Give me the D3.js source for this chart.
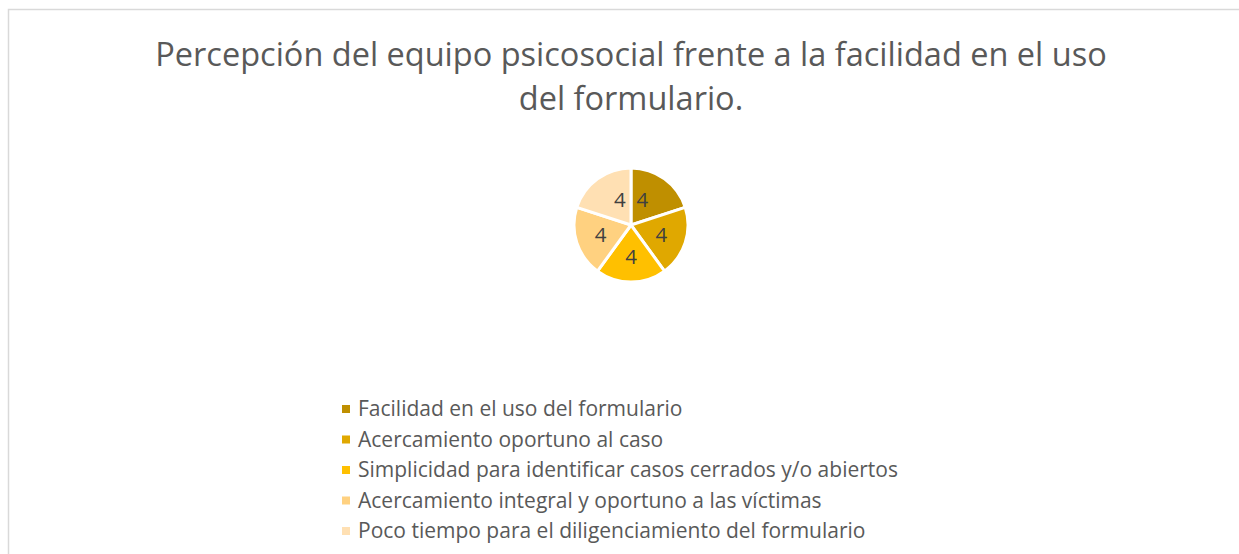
<!DOCTYPE html>
<html>
<head>
<meta charset="utf-8">
<script src="https://cdn.jsdelivr.net/npm/d3@7"></script>
<style>
  body { margin: 0; background: #fff; }
  svg { display: block; }
</style>
</head>
<body>
<script>
var titleLines = ["Percepción del equipo psicosocial frente a la facilidad en el uso", "del formulario."];
var categories = [
    "Facilidad en el uso del formulario",
    "Acercamiento oportuno al caso",
    "Simplicidad para identificar casos cerrados y/o abiertos",
    "Acercamiento integral y oportuno a las víctimas",
    "Poco tiempo para el diligenciamiento del formulario"
];
var values = [4, 4, 4, 4, 4];
var colors = ["#bf8f00", "#e0a800", "#ffc000", "#ffd180", "#ffe0b3"];

const w = 1239;
const h = 554;
const font = "'Open Sans', 'Noto Sans', sans-serif";

const svg = d3.select("body")
    .append("svg")
    .attr("width", w)
    .attr("height", h);

// chart area border (runs off the right and bottom)
svg.append("rect")
    .attr("x", 8.5)
    .attr("y", 9.5)
    .attr("width", w + 20)
    .attr("height", h + 20)
    .attr("fill", "#fff")
    .attr("stroke", "#d9d9d9")
    .attr("stroke-width", 1.5);

// title
svg.append("g")
    .selectAll("text")
    .data(titleLines)
    .enter()
    .append("text")
    .attr("x", 631)
    .attr("y", (d, i) => 66 + i * 44)
    .attr("text-anchor", "middle")
    .style("font-family", font)
    .style("font-size", "32.5px")
    .style("fill", "#595959")
    .text(d => d);

// pie
const cx = 631, cy = 225, r = 57;
const pie = d3.pie().sort(null).value(d => d);
const arc = d3.arc().innerRadius(0).outerRadius(r);
const labelArc = d3.arc().innerRadius(r * 0.56).outerRadius(r * 0.56);

const g = svg.append("g").attr("transform", "translate(" + cx + "," + cy + ")");
const slices = g.selectAll("g.slice")
    .data(pie(values))
    .enter()
    .append("g")
    .attr("class", "slice");

slices.append("path")
    .attr("d", arc)
    .attr("fill", (d, i) => colors[i])
    .attr("stroke", "#fff")
    .attr("stroke-width", 3);

slices.append("text")
    .attr("transform", d => {
        var c = labelArc.centroid(d);
        // pull the top labels in toward the vertical, like the original
        return "translate(" + (c[0] * (c[1] < 0 ? 0.6 : 1)) + "," + c[1] + ")";
    })
    .attr("text-anchor", "middle")
    .attr("dy", "0.36em")
    .style("font-family", font)
    .style("font-size", "20.5px")
    .style("fill", "#404040")
    .text(d => d.data);

// legend
const legend = svg.append("g")
    .selectAll("g")
    .data(categories)
    .enter()
    .append("g")
    .attr("transform", (d, i) => "translate(342," + (409 + i * 30.5) + ")");

legend.append("rect")
    .attr("x", 0)
    .attr("y", -4)
    .attr("width", 8)
    .attr("height", 8)
    .attr("fill", (d, i) => colors[i]);

legend.append("text")
    .attr("x", 16)
    .attr("dy", "0.35em")
    .style("font-family", font)
    .style("font-size", "21px")
    .style("fill", "#595959")
    .text(d => d);
</script>
</body>
</html>
